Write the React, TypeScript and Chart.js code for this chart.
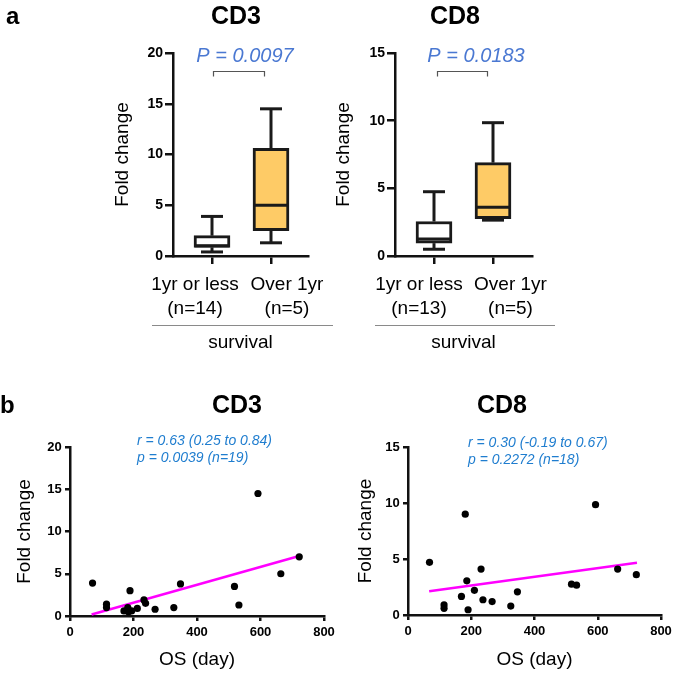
import React, { useEffect, useRef } from 'react';
import { Chart, registerables } from 'chart.js';

Chart.register(...registerables);

const FONT = '"Liberation Sans", Arial, Helvetica, sans-serif';
const PAGE = 673;

// ---------- Panel a : box plots ----------
const GROUPS = ['1yr or less', 'Over 1yr'];
const CD3_N = ['(n=14)', '(n=5)'];
const CD8_N = ['(n=13)', '(n=5)'];
const CD3_MIN = [0.4, 1.3];
const CD3_Q1 = [0.85, 2.5];
const CD3_MEDIAN = [1.0, 5.0];
const CD3_Q3 = [2.0, 10.6];
const CD3_MAX = [3.9, 14.5];
const CD8_MIN = [0.5, 2.65];
const CD8_Q1 = [0.95, 2.75];
const CD8_MEDIAN = [1.25, 3.6];
const CD8_Q3 = [2.55, 6.9];
const CD8_MAX = [4.75, 9.85];
const BOX_COLORS = ['#ffffff', '#fecb66'];
const CD3_Y_TICKS = [0, 5, 10, 15, 20];
const CD8_Y_TICKS = [0, 5, 10, 15];
const CD3_P = 'P = 0.0097';
const CD8_P = 'P = 0.0183';

// ---------- Panel b : scatter ----------
const CD3_OS = [71, 115, 115, 170, 182, 184, 189, 194, 212, 233, 238, 268, 327, 348, 518, 532, 592, 664, 722];
const CD3_FOLD = [3.9, 1.4, 1.0, 0.6, 1.0, 0.5, 3.0, 0.6, 0.9, 1.9, 1.5, 0.8, 1.0, 3.8, 3.5, 1.3, 14.5, 5.0, 7.0];
const CD8_OS = [68, 114, 114, 169, 181, 186, 190, 210, 231, 237, 266, 325, 346, 517, 533, 593, 663, 722];
const CD8_FOLD = [4.7, 0.9, 0.6, 1.66, 9.0, 3.05, 0.47, 2.2, 4.1, 1.36, 1.2, 0.8, 2.07, 2.75, 2.66, 9.85, 4.1, 3.6];
const CD3_FIT_X = [68, 722];
const CD3_FIT_Y = [0.18, 7.1];
const CD8_FIT_X = [67, 724];
const CD8_FIT_Y = [2.12, 4.67];
const OS_TICKS = [0, 200, 400, 600, 800];
const CD3_STATS = ['r = 0.63 (0.25 to 0.84)', 'p = 0.0039 (n=19)'];
const CD8_STATS = ['r = 0.30 (-0.19 to 0.67)', 'p = 0.2272 (n=18)'];

type TextItem = { text: string; x: number; y: number; font: string; color: string; align?: CanvasTextAlign };
type LineItem = { pts: number[][]; color: string; width: number };

function decorPlugin(texts: TextItem[], lines: LineItem[]) {
  return {
    id: 'decor',
    afterDraw(chart: any) {
      const ctx = chart.ctx as CanvasRenderingContext2D;
      ctx.save();
      for (const l of lines) {
        ctx.beginPath();
        ctx.strokeStyle = l.color;
        ctx.lineWidth = l.width;
        l.pts.forEach((p, i) => (i === 0 ? ctx.moveTo(p[0], p[1]) : ctx.lineTo(p[0], p[1])));
        ctx.stroke();
      }
      for (const t of texts) {
        ctx.font = t.font;
        ctx.fillStyle = t.color;
        ctx.textAlign = t.align || 'left';
        ctx.textBaseline = 'alphabetic';
        ctx.fillText(t.text, t.x, t.y);
      }
      ctx.restore();
    },
  };
}

function whiskerPlugin(mins: number[], meds: number[], maxs: number[], q1s: number[], q3s: number[]) {
  return {
    id: 'whiskers',
    afterDatasetsDraw(chart: any) {
      const ctx = chart.ctx as CanvasRenderingContext2D;
      const xs = chart.scales.x;
      const ys = chart.scales.y;
      const meta = chart.getDatasetMeta(0);
      const cap = 22;
      ctx.save();
      ctx.strokeStyle = '#1a1a1a';
      ctx.lineWidth = 3;
      ctx.lineCap = 'butt';
      mins.forEach((_, i) => {
        const cx = xs.getPixelForValue(i);
        const half = meta.data[i].width / 2;
        const seg = (x1: number, y1: number, x2: number, y2: number) => {
          ctx.beginPath();
          ctx.moveTo(x1, y1);
          ctx.lineTo(x2, y2);
          ctx.stroke();
        };
        const yMax = ys.getPixelForValue(maxs[i]);
        const yMin = ys.getPixelForValue(mins[i]);
        const yQ3 = ys.getPixelForValue(q3s[i]);
        const yQ1 = ys.getPixelForValue(q1s[i]);
        const yMed = ys.getPixelForValue(meds[i]);
        seg(cx, yQ3, cx, yMax);
        seg(cx, yQ1, cx, yMin);
        seg(cx - cap / 2, yMax, cx + cap / 2, yMax);
        seg(cx - cap / 2, yMin, cx + cap / 2, yMin);
        seg(cx - half + 1, yMed, cx + half - 1, yMed);
      });
      ctx.restore();
    },
  };
}

function frameOptions(L: number, R: number, T: number, B: number) {
  return {
    layout: { padding: { left: 0, top: T, right: PAGE - R, bottom: 0 } },
    yFit: (s: any) => {
      s.width = L;
      s.paddingTop = 0;
      s.paddingBottom = 0;
    },
    xFit: (s: any) => {
      s.height = PAGE - B;
      s.paddingLeft = 0;
      s.paddingRight = 0;
    },
  };
}

function boxConfig(opts: {
  L: number; R: number; T: number; B: number; yMax: number; yTicks: number[];
  mins: number[]; q1s: number[]; meds: number[]; q3s: number[]; maxs: number[]; ns: string[];
  labelShift: number[];
  yTitleX: number; texts: TextItem[]; lines: LineItem[];
}) {
  const f = frameOptions(opts.L, opts.R, opts.T, opts.B);
  const unit = 59;
  const centerA = opts.L + 39;
  const xMin = -(centerA - opts.L) / unit;
  const xMax = xMin + (opts.R - opts.L) / unit;
  // tick list: label slot for group 0, mark for group 0, mark for group 1, label slot for group 1
  const tickValues = [opts.labelShift[0] / unit, 0, 1, 1 + opts.labelShift[1] / unit];
  const isMark = (i: number) => i === 1 || i === 2;
  return {
    type: 'bar',
    data: {
      datasets: [
        {
          data: GROUPS.map((_, i) => ({ x: i, y: [opts.q1s[i], opts.q3s[i]] })),
          backgroundColor: BOX_COLORS,
          borderColor: '#1a1a1a',
          borderWidth: 3,
          borderSkipped: false,
          barThickness: 36,
        },
      ],
    },
    options: {
      animation: false,
      responsive: false,
      devicePixelRatio: 1,
      layout: f.layout,
      plugins: { legend: { display: false }, tooltip: { enabled: false } },
      scales: {
        x: {
          type: 'linear',
          offset: false,
          min: xMin,
          max: xMax,
          afterFit: f.xFit,
          afterBuildTicks: (s: any) => {
            s.ticks = tickValues.map((v) => ({ value: v }));
          },
          grid: {
            display: true,
            offset: false,
            drawOnChartArea: false,
            tickLength: 8,
            tickWidth: 2.5,
            lineWidth: 2.5,
            color: '#111',
            tickColor: (c: any) => (isMark(c.index) ? '#111' : 'rgba(0,0,0,0)'),
          },
          border: { display: true, color: '#111', width: 2.5 },
          ticks: {
            autoSkip: false,
            maxRotation: 0,
            padding: 9,
            color: '#000',
            font: { family: FONT, size: 19, lineHeight: 1.263 },
            callback: (_v: any, i: number) => (i === 0 ? [GROUPS[0], opts.ns[0]] : i === 3 ? [GROUPS[1], opts.ns[1]] : ''),
          },
          title: {
            display: true,
            text: 'survival',
            color: '#000',
            font: { family: FONT, size: 19, lineHeight: 1.2 },
            padding: { top: 0, bottom: PAGE - 11.4 - 343 },
          },
        },
        y: {
          type: 'linear',
          min: 0,
          max: opts.yMax,
          afterFit: f.yFit,
          afterBuildTicks: (s: any) => {
            s.ticks = opts.yTicks.map((v) => ({ value: v }));
          },
          grid: { display: true, drawOnChartArea: false, tickLength: 8, tickWidth: 2.5, tickColor: '#111', lineWidth: 2.5, color: '#111' },
          border: { display: true, color: '#111', width: 2.5 },
          ticks: { padding: 2, color: '#000', font: { family: FONT, size: 14, weight: 'bold' } },
          title: {
            display: true,
            text: 'Fold change',
            color: '#000',
            font: { family: FONT, size: 19, lineHeight: 1.2 },
            padding: { top: opts.yTitleX - 11.4, bottom: 0 },
          },
        },
      },
    },
    plugins: [
      whiskerPlugin(opts.mins, opts.meds, opts.maxs, opts.q1s, opts.q3s),
      decorPlugin(opts.texts, opts.lines),
    ],
  };
}

function scatterConfig(opts: {
  L: number; R: number; T: number; B: number; yMax: number; yTicks: number[];
  xs: number[]; ys: number[]; fitX: number[]; fitY: number[];
  yTitleX: number; texts: TextItem[]; lines: LineItem[];
}) {
  const f = frameOptions(opts.L, opts.R, opts.T, opts.B);
  return {
    type: 'scatter',
    data: {
      datasets: [
        {
          type: 'scatter',
          data: opts.xs.map((x, i) => ({ x, y: opts.ys[i] })),
          backgroundColor: '#000',
          borderColor: '#000',
          pointRadius: 3.6,
          borderWidth: 0,
          clip: false,
        },
        {
          type: 'line',
          data: opts.fitX.map((x, i) => ({ x, y: opts.fitY[i] })),
          borderColor: '#ff00ff',
          borderWidth: 2.5,
          pointRadius: 0,
          showLine: true,
          fill: false,
          clip: false,
        },
      ],
    },
    options: {
      animation: false,
      responsive: false,
      devicePixelRatio: 1,
      layout: f.layout,
      plugins: { legend: { display: false }, tooltip: { enabled: false } },
      scales: {
        x: {
          type: 'linear',
          min: 0,
          max: 800,
          afterFit: f.xFit,
          afterBuildTicks: (s: any) => {
            s.ticks = OS_TICKS.map((v) => ({ value: v }));
          },
          grid: { display: true, drawOnChartArea: false, tickLength: 5, tickWidth: 2.5, tickColor: '#111', lineWidth: 2.5, color: '#111' },
          border: { display: true, color: '#111', width: 2.5 },
          ticks: { padding: 3.4, color: '#000', maxRotation: 0, autoSkip: false, font: { family: FONT, size: 13, weight: 'bold', lineHeight: 1.2 } },
          title: {
            display: true,
            text: 'OS (day)',
            color: '#000',
            font: { family: FONT, size: 19, lineHeight: 1.2 },
            padding: { top: 0, bottom: PAGE - 11.4 - 660 },
          },
        },
        y: {
          type: 'linear',
          min: 0,
          max: opts.yMax,
          afterFit: f.yFit,
          afterBuildTicks: (s: any) => {
            s.ticks = opts.yTicks.map((v) => ({ value: v }));
          },
          grid: { display: true, drawOnChartArea: false, tickLength: 5, tickWidth: 2.5, tickColor: '#111', lineWidth: 2.5, color: '#111' },
          border: { display: true, color: '#111', width: 2.5 },
          ticks: { padding: 3.3, color: '#000', font: { family: FONT, size: 13, weight: 'bold' } },
          title: {
            display: true,
            text: 'Fold change',
            color: '#000',
            font: { family: FONT, size: 19, lineHeight: 1.2 },
            padding: { top: opts.yTitleX - 11.4, bottom: 0 },
          },
        },
      },
    },
    plugins: [decorPlugin(opts.texts, opts.lines)],
  };
}

const TITLE_FONT = `bold 25px ${FONT}`;
const PANEL_FONT = `bold 24px ${FONT}`;
const P_FONT = `italic 20px ${FONT}`;
const STAT_FONT = `italic 14px ${FONT}`;
const P_COLOR = '#4a78d2';
const STAT_COLOR = '#1f7dcf';
const BRACKET = '#555555';
const RULE = '#8a8a8a';

const CONFIGS = [
  () =>
    boxConfig({
      L: 173, R: 308, T: 53, B: 256, yMax: 20, yTicks: CD3_Y_TICKS,
      mins: CD3_MIN, q1s: CD3_Q1, meds: CD3_MEDIAN, q3s: CD3_Q3, maxs: CD3_MAX, ns: CD3_N,
      labelShift: [-17, 16],
      yTitleX: 123,
      texts: [
        { text: 'a', x: 6, y: 24, font: PANEL_FONT, color: '#000' },
        { text: 'CD3', x: 236, y: 24, font: TITLE_FONT, color: '#000', align: 'center' },
        { text: CD3_P, x: 245, y: 62, font: P_FONT, color: P_COLOR, align: 'center' },
      ],
      lines: [
        { pts: [[213.5, 76.5], [213.5, 71.5], [264.5, 71.5], [264.5, 76.5]], color: BRACKET, width: 1.2 },
        { pts: [[152, 325.5], [333, 325.5]], color: RULE, width: 1 },
      ],
    }),
  () =>
    boxConfig({
      L: 395, R: 532, T: 53, B: 256, yMax: 15, yTicks: CD8_Y_TICKS,
      mins: CD8_MIN, q1s: CD8_Q1, meds: CD8_MEDIAN, q3s: CD8_Q3, maxs: CD8_MAX, ns: CD8_N,
      labelShift: [-15, 17.5],
      yTitleX: 344,
      texts: [
        { text: 'CD8', x: 455, y: 24, font: TITLE_FONT, color: '#000', align: 'center' },
        { text: CD8_P, x: 476, y: 62, font: P_FONT, color: P_COLOR, align: 'center' },
      ],
      lines: [
        { pts: [[437.5, 76.5], [437.5, 71.5], [487.5, 71.5], [487.5, 76.5]], color: BRACKET, width: 1.2 },
        { pts: [[375, 325.5], [555, 325.5]], color: RULE, width: 1 },
      ],
    }),
  () =>
    scatterConfig({
      L: 70, R: 324, T: 447, B: 616, yMax: 20, yTicks: CD3_Y_TICKS,
      xs: CD3_OS, ys: CD3_FOLD, fitX: CD3_FIT_X, fitY: CD3_FIT_Y,
      yTitleX: 25,
      texts: [
        { text: 'b', x: 0, y: 413, font: PANEL_FONT, color: '#000' },
        { text: 'CD3', x: 237, y: 413, font: TITLE_FONT, color: '#000', align: 'center' },
        { text: CD3_STATS[0], x: 137, y: 444.7, font: STAT_FONT, color: STAT_COLOR },
        { text: CD3_STATS[1], x: 137, y: 462, font: STAT_FONT, color: STAT_COLOR },
      ],
      lines: [],
    }),
  () =>
    scatterConfig({
      L: 408, R: 661, T: 447, B: 615, yMax: 15, yTicks: CD8_Y_TICKS,
      xs: CD8_OS, ys: CD8_FOLD, fitX: CD8_FIT_X, fitY: CD8_FIT_Y,
      yTitleX: 366,
      texts: [
        { text: 'CD8', x: 502, y: 413, font: TITLE_FONT, color: '#000', align: 'center' },
        { text: CD8_STATS[0], x: 468, y: 446.7, font: STAT_FONT, color: STAT_COLOR },
        { text: CD8_STATS[1], x: 468, y: 464, font: STAT_FONT, color: STAT_COLOR },
      ],
      lines: [],
    }),
];

function FullCanvasChart({ make }: { make: () => any }) {
  const ref = useRef<HTMLCanvasElement>(null);
  useEffect(() => {
    if (!ref.current) return;
    const chart = new Chart(ref.current, make());
    return () => chart.destroy();
  }, [make]);
  return (
    <canvas
      ref={ref}
      width={PAGE}
      height={PAGE}
      style={{ position: 'absolute', left: 0, top: 0, width: PAGE, height: PAGE }}
    />
  );
}

export default function App() {
  return (
    <div style={{ position: 'absolute', left: 0, top: 0, width: PAGE, height: PAGE, background: '#fff', overflow: 'hidden' }}>
      {CONFIGS.map((make, i) => (
        <FullCanvasChart key={i} make={make} />
      ))}
    </div>
  );
}
